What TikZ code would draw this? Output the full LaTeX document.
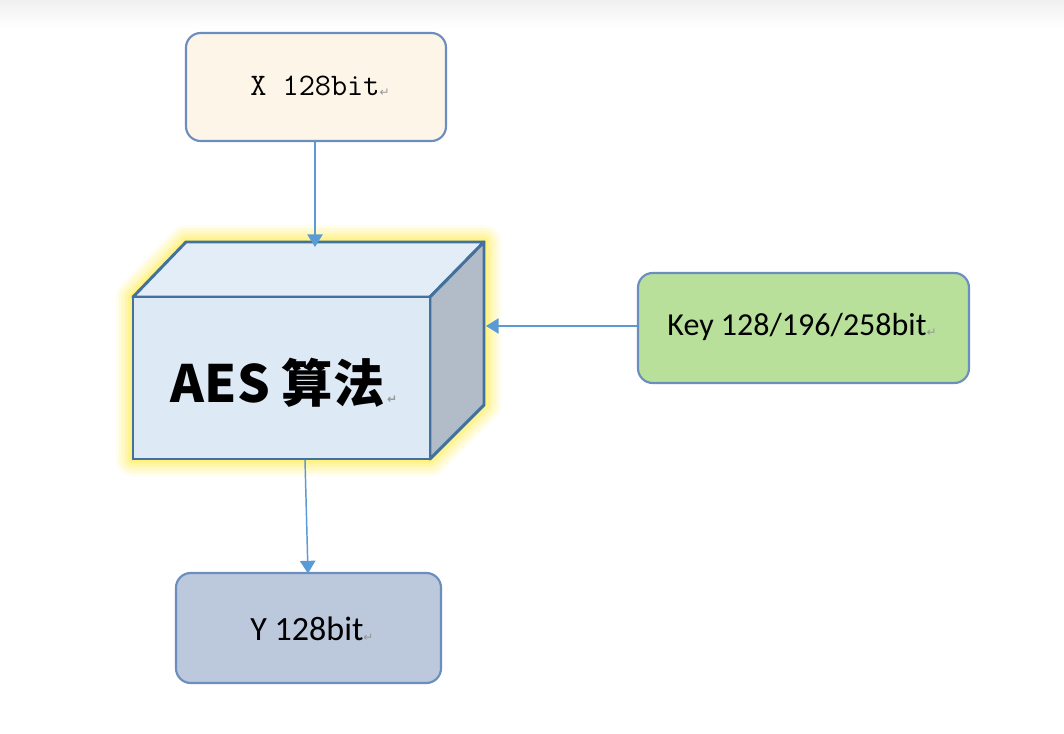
\documentclass[tikz,border=0pt]{standalone}
\usepackage{fontspec}
\setmainfont{Carlito}
\newfontfamily\cjk{Noto Sans CJK SC}
\newfontfamily\symfam{DejaVu Sans}
\usetikzlibrary{arrows.meta}
\definecolor{boxline}{RGB}{108,142,191}
\definecolor{xfill}{RGB}{253,245,232}
\definecolor{keyfill}{RGB}{184,224,155}
\definecolor{yfill}{RGB}{188,200,220}
\definecolor{frontfill}{RGB}{221,233,245}
\definecolor{topfill}{RGB}{227,237,247}
\definecolor{sidefill}{RGB}{178,188,200}
\definecolor{cubeline}{RGB}{65,113,156}
\definecolor{arrowcol}{RGB}{91,155,213}
\definecolor{glowcol}{RGB}{255,240,100}
\definecolor{retcol}{RGB}{150,150,150}
\newcommand{\retmark}{{\symfam\fontsize{9}{9}\selectfont\color{retcol}\raisebox{-0.1ex}{↵}}}
\begin{document}
\begin{tikzpicture}[x=0.75pt,y=-0.75pt,
  rbox/.style={draw=boxline, line width=1.6pt, rounded corners=11pt, inner sep=0pt},
  conn/.style={draw=arrowcol, line width=1.1pt, -{Triangle[length=9.5pt,width=11.5pt]}},
  glow/.style={draw=glowcol, line join=round, line cap=round}]
\useasboundingbox (0,0) rectangle (1064,734);
\fill[white] (0,0) rectangle (1064,734);
\shade[top color=black!6, bottom color=white] (0,0) rectangle (1064,28);

% cube glow
\foreach \w/\o in {34/0.12,28/0.14,22/0.18,16/0.24,10/0.35,5/0.5}{
  \draw[glow, line width=\w*0.75pt, opacity=\o]
    (133,297) -- (186,242) -- (484,242) -- (484,405) -- (430,459) -- (133,459) -- cycle;
}
\fill[white] (133,297) -- (186,242) -- (484,242) -- (484,405) -- (430,459) -- (133,459) -- cycle;

% cube faces
\filldraw[fill=topfill, draw=cubeline, line width=2.2pt, line join=round]
  (133,297) -- (186,242) -- (484,242) -- (430,297) -- cycle;
\filldraw[fill=sidefill, draw=cubeline, line width=2.2pt, line join=round]
  (430,297) -- (484,242) -- (484,405) -- (430,459) -- cycle;
\node[draw=cubeline, fill=frontfill, line width=2.2pt, minimum width=222.75pt, minimum height=121.5pt, inner sep=0pt] (front) at (281.5,378) {};
\coordinate (topin) at (315,247);
\coordinate (sidein) at (486,326);
\coordinate (botout) at (305,460);

\node[inner sep=0pt] (aes) at (284,383) {\cjk\bfseries\fontsize{38.5}{38.5}\selectfont AES 算法\hspace{2pt}\retmark};

% boxes
\node[rbox, fill=xfill, minimum width=195pt, minimum height=81pt] (xb) at (316,87) {};
\node[inner sep=0pt] at (320,86) {\ttfamily\fontsize{23.5}{23.5}\selectfont X 128bit\retmark};

\node[rbox, fill=keyfill, minimum width=248.25pt, minimum height=82.5pt] (kb) at (803.5,328) {};
\node[inner sep=0pt] at (802,327) {\fontsize{24}{24}\selectfont Key 128/196/258bit\retmark};

\node[rbox, fill=yfill, minimum width=198.75pt, minimum height=82.5pt] (yb) at (308.5,628) {};
\node[inner sep=0pt] at (312,629) {\fontsize{25.5}{25.5}\selectfont Y 128bit\retmark};

% connectors
\draw[conn] (xb.south -| topin) -- (topin);
\draw[conn] (kb.west |- sidein) -- (sidein);
\draw[conn] (botout) -- (308,573.5);
\end{tikzpicture}
\end{document}
